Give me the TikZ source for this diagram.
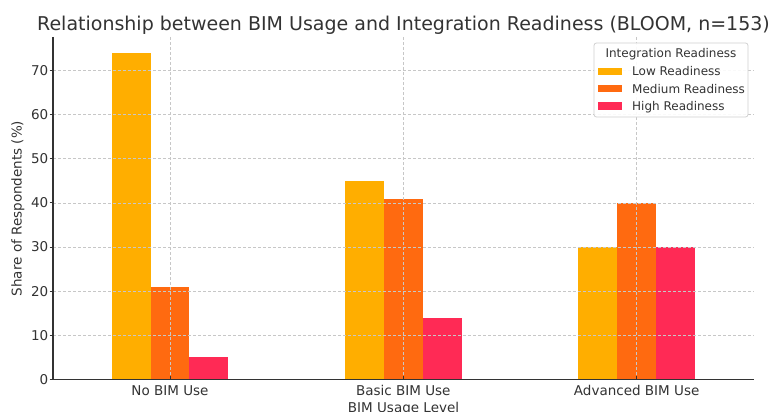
\documentclass[tikz,border=0pt]{standalone}
\usepackage{fontspec}
\setmainfont{DejaVu Sans}
\definecolor{lowc}{HTML}{FFAE00}
\definecolor{medc}{HTML}{FF6A10}
\definecolor{highc}{HTML}{FF2A55}
\definecolor{txt}{HTML}{333333}
\begin{document}
\begin{tikzpicture}[x=1pt,y=-1pt,
  gridline/.style={draw=black!22, line width=0.8pt, dash pattern=on 3pt off 2pt},
  ticklab/.style={text=txt, inner sep=0pt, font=\fontsize{13.5}{16}\selectfont},
  leglab/.style={text=txt, inner sep=0pt, anchor=base west, font=\fontsize{12}{14}\selectfont},
  axisline/.style={draw=txt, line width=1.1pt}]
\useasboundingbox (0,0) rectangle (771,412);
\fill[white] (0,0) rectangle (771,412);
% bars
\foreach \c/\a/\b/\d in {170/74/21/5, 403.33/45/41/14, 636.67/30/40/30} {
  \fill[lowc]  (\c-58.33,379.5) rectangle (\c-19.44,379.5-\a*4.414);
  \fill[medc]  (\c-19.44,379.5) rectangle (\c+19.44,379.5-\b*4.414);
  \fill[highc] (\c+19.44,379.5) rectangle (\c+58.33,379.5-\d*4.414);
}
% grid
\foreach \v in {10,20,...,70} {
  \draw[gridline] (53,379.5-\v*4.414) -- (754,379.5-\v*4.414);
}
\foreach \c in {170,403.33,636.67} {
  \draw[gridline] (\c,37) -- (\c,379.5);
}
% axes
\draw[axisline] (53,37) -- (53,379.5) -- (754,379.5);
\foreach \v in {0,10,...,70} {
  \draw[draw=txt, line width=1pt] (49.5,379.5-\v*4.414) -- (53,379.5-\v*4.414);
  \node[ticklab, anchor=east] (yt\v) at (48.5,379.5-\v*4.414) {\v};
}
\foreach \c/\t/\n in {170/No BIM Use/a, 403.33/Basic BIM Use/b, 636.67/Advanced BIM Use/c} {
  \draw[draw=txt, line width=1pt] (\c,379.5) -- (\c,376);
  \node[ticklab, anchor=base] (xt\n) at (\c,395) {\t};
}
\node[ticklab, anchor=base] (xlabel) at (403.5,412.8) {BIM Usage Level};
\node[ticklab, rotate=90] (ylabel) at (18,208.5) {Share of Respondents (\%)};
% title
\node[text=txt, inner sep=0pt, anchor=base, font=\fontsize{19}{22}\selectfont] (title) at (403.5,30.7)
  {Relationship between BIM Usage and Integration Readiness (BLOOM, n=153)};
% legend
\draw[rounded corners=2.5pt, draw=black!18, line width=0.8pt, fill=white, fill opacity=0.9] (594,43) rectangle (748,117);
\node[text=txt, inner sep=0pt, anchor=base, font=\fontsize{12}{14}\selectfont] (legtitle) at (671,57.7) {Integration Readiness};
\fill[lowc]  (598,67.6) rectangle (622,75);
\fill[medc]  (598,85.0) rectangle (622,92.4);
\fill[highc] (598,102.4) rectangle (622,109.8);
\node[leglab] (l1) at (632,76) {Low Readiness};
\node[leglab] (l2) at (632,93.3) {Medium Readiness};
\node[leglab] (l3) at (632,110.7) {High Readiness};
\end{tikzpicture}
\end{document}
